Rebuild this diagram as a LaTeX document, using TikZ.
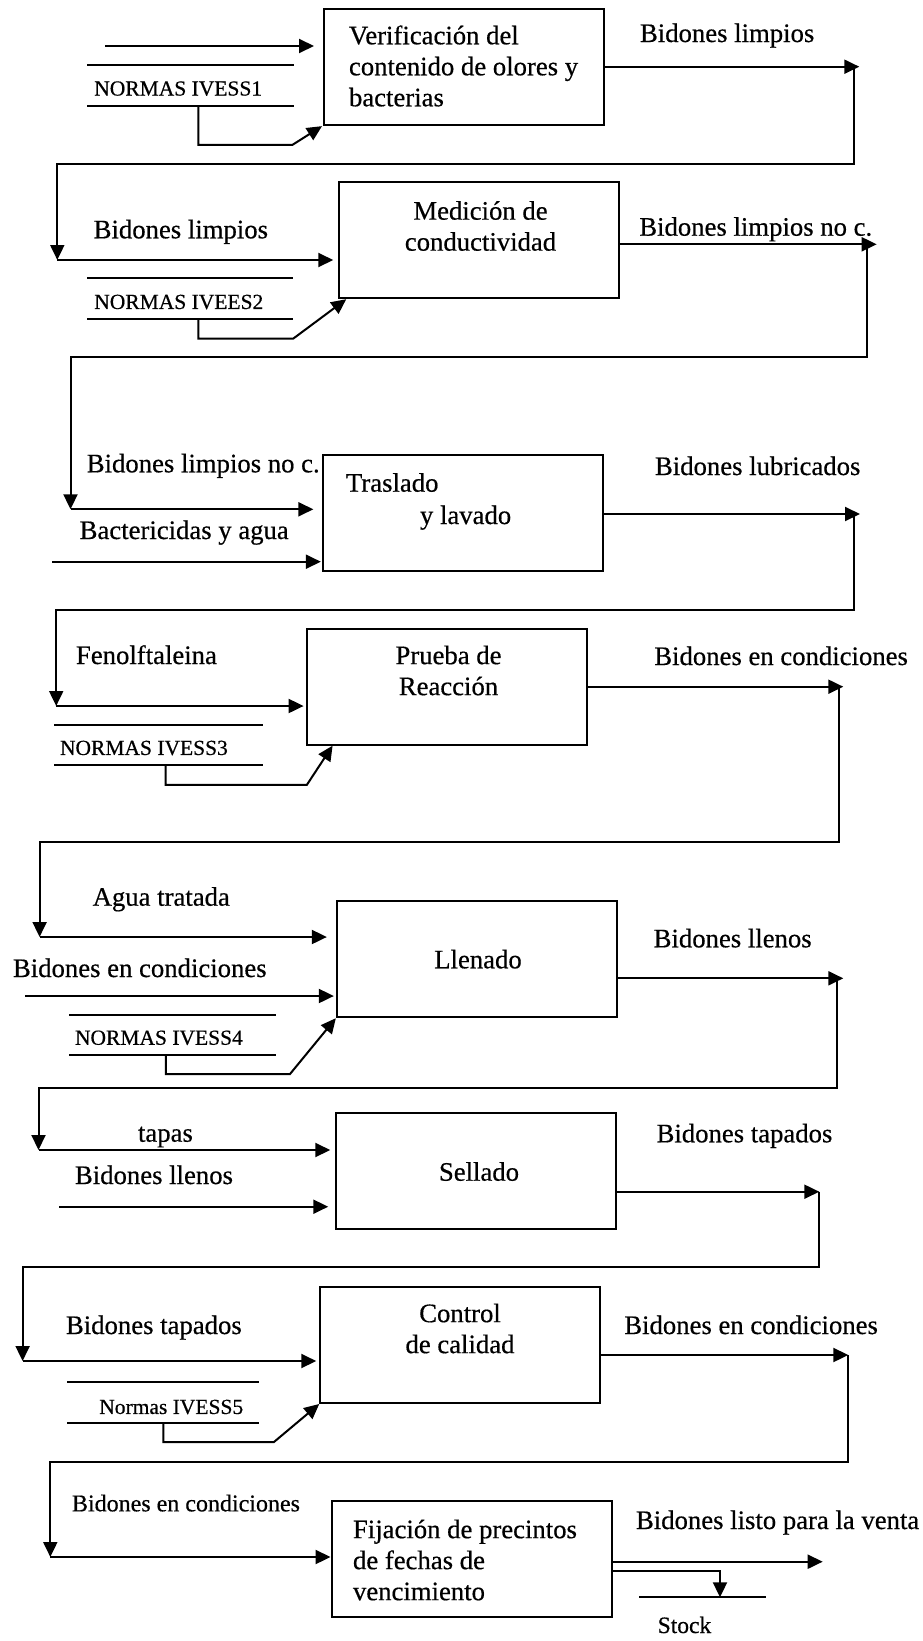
\documentclass[tikz,border=0pt]{standalone}
\usepackage{fontspec}
\setmainfont{Liberation Serif}[FakeBold=0.5]
\usetikzlibrary{arrows.meta,calc}

\begin{document}
\begin{tikzpicture}[x=1pt,y=-1pt,line width=2pt,
  flow/.style={-{Triangle[length=15pt,width=14pt]}},
  procbox/.style={draw, minimum width=280pt, minimum height=116pt, inner sep=0pt},
  lbl/.style={font=\fontsize{26.7}{31}\selectfont, inner sep=0pt, text height=18pt, text depth=0pt},
  smalllbl/.style={font=\fontsize{24}{28}\selectfont, inner sep=0pt, text height=16pt, text depth=0pt},
  boxtxt/.style={font=\fontsize{26.7}{31}\selectfont, inner sep=0pt},
  storetxt/.style={font=\fontsize{21.5}{25}\selectfont, inner sep=0pt, text height=14.5pt, text depth=0pt},
  store/.style={minimum height=38.5pt, inner sep=0pt},
]
\path[use as bounding box, fill=white] (0,0) rectangle (923,1641);

% ---------- process boxes ----------
\node[procbox] (b1) at (464,67.15) {};
\node[procbox] (b2) at (479.25,240.2) {};
\node[procbox] (b3) at (463.35,513.35) {};
\node[procbox] (b4) at (446.6,686.65) {};
\node[procbox] (b5) at (476.85,959.2) {};
\node[procbox] (b6) at (476.25,1171.3) {};
\node[procbox] (b7) at (460.25,1345) {};
\node[procbox] (b8) at (471.55,1559.2) {};

% ---------- box texts ----------
\node[boxtxt, align=left, anchor=west] (t1) at (348,66) {Verificación del\\contenido de olores y\\bacterias};
\node[boxtxt, align=center] (t2) at (480.5,226) {Medición de\\conductividad};
\node[lbl, anchor=west] (t3a) at (345,482.7) {Traslado};
\node[lbl, anchor=west] (t3b) at (419,515) {y lavado};
\node[boxtxt, align=center] (t4) at (448.5,670.5) {Prueba de\\Reacción};
\node[lbl] (t5) at (478,959.3) {Llenado};
\node[lbl] (t6) at (479,1171.7) {Sellado};
\node[boxtxt, align=center] (t7) at (460,1328.5) {Control\\de calidad};
\node[boxtxt, align=left, anchor=west] (t8) at (352,1560) {Fijación de precintos\\de fechas de\\vencimiento};

% ---------- data stores (norms) ----------
\node[store, minimum width=205pt] (s1) at (190.8,85.5) {};
\node[store, minimum width=204pt] (s2) at (190.3,298.5) {};
\node[store, minimum width=206.5pt] (s3) at (158.25,745) {};
\node[store, minimum width=204.5pt] (s4) at (172.25,1035) {};
\node[store, minimum width=190pt] (s5) at (163.3,1402.5) {};
\foreach \s in {s1,s2,s3,s4,s5}{
  \draw (\s.north west) -- (\s.north east);
  \draw (\s.south west) -- (\s.south east);
}
\node[storetxt, anchor=west] (s1t) at (93.3,88.3) {NORMAS IVESS1};
\node[storetxt, anchor=west] (s2t) at (93.3,301.7) {NORMAS IVEES2};
\node[storetxt, anchor=west] (s3t) at (59,747.7) {NORMAS IVESS3};
\node[storetxt, anchor=west] (s4t) at (74,1037.5) {NORMAS IVESS4};
\node[storetxt, anchor=west] (s5t) at (98.3,1406.7) {Normas IVESS5};

% ---------- flow labels ----------
\node[lbl, anchor=west] (l1o) at (639,33) {Bidones limpios};
\node[lbl, anchor=west] (l2i) at (92.7,229.3) {Bidones limpios};
\node[lbl, anchor=west] (l2o) at (638.3,226.7) {Bidones limpios no c.};
\node[lbl, anchor=west] (l3i) at (85.8,463.3) {Bidones limpios no c.};
\node[lbl, anchor=west] (l3j) at (78.7,530) {Bactericidas y agua};
\node[lbl, anchor=west] (l3o) at (654,466) {Bidones lubricados};
\node[lbl, anchor=west] (l4i) at (75,655) {Fenolftaleina};
\node[lbl, anchor=west] (l4o) at (653.3,656) {Bidones en condiciones};
\node[lbl, anchor=west] (l5i) at (91.7,896.7) {Agua tratada};
\node[lbl, anchor=west] (l5j) at (12,968) {Bidones en condiciones};
\node[lbl, anchor=west] (l5o) at (652.7,938.3) {Bidones llenos};
\node[lbl, anchor=west] (l6i) at (137,1132.7) {tapas};
\node[lbl, anchor=west] (l6j) at (74,1175) {Bidones llenos};
\node[lbl, anchor=west] (l6o) at (655.6,1133.3) {Bidones tapados};
\node[lbl, anchor=west] (l7i) at (65,1325) {Bidones tapados};
\node[lbl, anchor=west] (l7o) at (623.3,1325) {Bidones en condiciones};
\node[smalllbl, anchor=west] (l8i) at (71,1503.3) {Bidones en condiciones};
\node[lbl, anchor=west] (l8o) at (635,1520) {Bidones listo para la venta};

% ---------- input points ----------
\coordinate (i1) at (105,46);
\coordinate (i2) at (57.3,260);
\coordinate (i3a) at (70.5,509.3);
\coordinate (i3b) at (52,561.7);
\coordinate (i4) at (56.2,706);
\coordinate (i5a) at (39.6,937);
\coordinate (i5b) at (25,996);
\coordinate (i6a) at (38.5,1150);
\coordinate (i6b) at (59,1206.7);
\coordinate (i7) at (22.6,1361);
\coordinate (i8) at (50.3,1557);

% ---------- output arrow tips ----------
\coordinate (o1) at (859.3,66.7);
\coordinate (o2) at (876.7,244.3);
\coordinate (o3) at (860,514);
\coordinate (o4) at (843.3,686.7);
\coordinate (o5) at (843.3,978.3);
\coordinate (o6) at (819.3,1191.7);
\coordinate (o7) at (848.3,1355);
\coordinate (o8) at (822.7,1561.7);

% ---------- start of each return line ----------
\coordinate (r1) at (854.3,66.7);
\coordinate (r2) at (866.7,244.3);
\coordinate (r3) at (854,514);
\coordinate (r4) at (838.5,686.7);
\coordinate (r5) at (836.5,978.3);
\coordinate (r6) at (819.3,1191.7);
\coordinate (r7) at (848,1355);

% ---------- inputs into boxes ----------
\draw[flow, shorten >=9pt] (i1) -- (b1.west |- i1);
\draw[flow, shorten >=5pt] (i2) -- (b2.west |- i2);
\draw[flow, shorten >=9pt] (i3a) -- (b3.west |- i3a);
\draw[flow, shorten >=1.5pt] (i3b) -- (b3.west |- i3b);
\draw[flow, shorten >=2pt] (i4) -- (b4.west |- i4);
\draw[flow, shorten >=9pt] (i5a) -- (b5.west |- i5a);
\draw[flow, shorten >=2pt] (i5b) -- (b5.west |- i5b);
\draw[flow, shorten >=5pt] (i6a) -- (b6.west |- i6a);
\draw[flow, shorten >=7pt] (i6b) -- (b6.west |- i6b);
\draw[flow, shorten >=3pt] (i7) -- (b7.west |- i7);
\draw[flow] (i8) -- (b8.west |- i8);

% ---------- outputs ----------
\draw[flow] (b1.east |- o1) -- (o1);
\draw[flow] (b2.east |- o2) -- (o2);
\draw[flow] (b3.east |- o3) -- (o3);
\draw[flow] (b4.east |- o4) -- (o4);
\draw[flow] (b5.east |- o5) -- (o5);
\draw[flow] (b6.east |- o6) -- (o6);
\draw[flow] (b7.east |- o7) -- (o7);
\draw[flow] (b8.east |- o8) -- (o8);

% ---------- returns to the next step ----------
\draw[flow] (r1) -- ++(0,97.6) -| (i2);
\draw[flow] (r2) -- ++(0,112.2) -| (i3a);
\draw[flow] (r3) -- ++(0,96.4) -| (i4);
\draw[flow] (r4) -- ++(0,155.2) -| (i5a);
\draw[flow] (r5) -- ++(0,110) -| (i6a);
\draw[flow] (r6) -- ++(0,75.6) -| (i7);
\draw[flow] (r7) -- ++(0,106.7) -| (i8);

% ---------- norms feeding the boxes ----------
\draw[flow] ($(s1.south)+(7.5,0)$) |- ($(b1.south west)+(-30.7,18.8)$) -- ($(b1.south west)+(-1,0)$);
\draw[flow] ($(s2.south)+(8,0)$) |- ($(b2.south west)+(-45,39.4)$) -- ($(b2.south west)+(8,0)$);
\draw[flow] ($(s3.south)+(7.4,0)$) |- ($(b4.south west)+(1.2,39.3)$) -- ($(b4.south west)+(27,0)$);
\draw[flow] ($(s4.south)+(-6.5,0)$) |- ($(b5.south west)+(-46,56)$) -- (b5.south west);
\draw[flow] (s5.south) |- ($(b7.south west)+(-45.3,38)$) -- (b7.south west);

% ---------- stock ----------
\coordinate (skl) at (639,1597.3);
\coordinate (skr) at (766,1597.3);
\coordinate (sk) at (720,1597.3);
\draw (skl) -- (skr);
\draw[flow] ($(b8.east)+(0,11.5)$) -| (sk);
\node[font=\fontsize{23.5}{27}\selectfont, inner sep=0pt, text height=16pt, text depth=0pt, anchor=west] (stk) at (656.7,1625) {Stock};
\end{tikzpicture}
\end{document}
